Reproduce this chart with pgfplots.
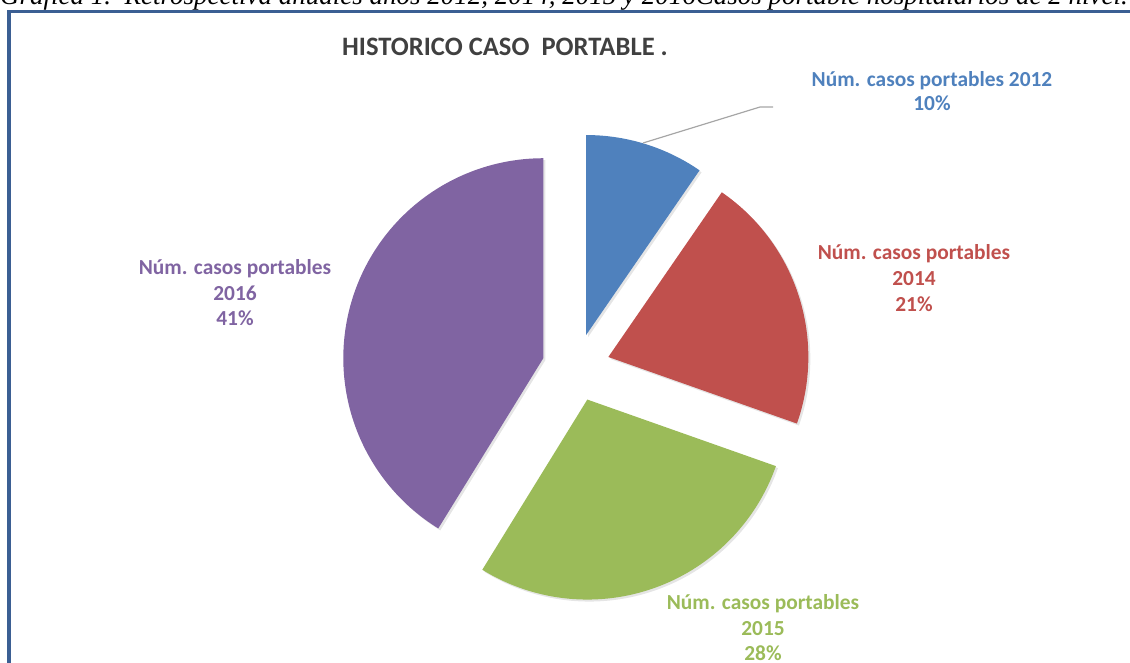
\documentclass[border=0pt]{standalone}
\usepackage{pgfplots}
\pgfplotsset{compat=1.18}
\usepackage{fontspec}
\setmainfont{Carlito}
\newfontfamily\capfont{Liberation Serif}
\definecolor{pieblue}{HTML}{4F81BD}
\definecolor{piered}{HTML}{C0504D}
\definecolor{piegreen}{HTML}{9BBB59}
\definecolor{piepurple}{HTML}{8064A2}
\definecolor{frameblue}{HTML}{3B5F93}
\definecolor{titlegray}{HTML}{404040}
% values (percent of cases)
\def\vA{9.6}   % 2012
\def\vB{20.8}  % 2014
\def\vC{28.4}  % 2015
\def\vD{41.2}  % 2016
% pie geometry (in px of the picture)
\def\cx{576}\def\cy{367.5}\def\rad{200}\def\expl{34}
\newcommand{\slice}[3]{%
 \pgfmathsetmacro\mid{(#1+#2)/2}%
 \pgfmathsetmacro\ox{\cx+\expl*cos(\mid)}%
 \pgfmathsetmacro\oy{\cy-\expl*sin(\mid)}%
 \pgfmathsetmacro\sx{\ox+2}%
 \pgfmathsetmacro\sy{\oy+2}%
 \edef\temp{\noexpand\addplot[fill=black, opacity=0.10, draw=none, domain=#2:#1, samples=120, variable=\noexpand\t] ({\sx+\rad*cos(\noexpand\t)},{\sy-\rad*sin(\noexpand\t)}) -- (axis cs:\sx,\sy) -- cycle;
 \noexpand\addplot[fill=#3, draw=none, domain=#2:#1, samples=120, variable=\noexpand\t] ({\ox+\rad*cos(\noexpand\t)},{\oy-\rad*sin(\noexpand\t)}) -- (axis cs:\ox,\oy) -- cycle;}%
 \temp}
\begin{document}
\begin{tikzpicture}
\begin{axis}[at={(0,0)}, anchor=south west, scale only axis,
  width=1130pt, height=663pt, xmin=0, xmax=1130, ymin=0, ymax=663,
  y dir=reverse, hide axis, clip=false]
\pgfmathsetmacro\aA{90}
\pgfmathsetmacro\aB{\aA-3.6*\vA}
\pgfmathsetmacro\aC{\aB-3.6*\vB}
\pgfmathsetmacro\aD{\aC-3.6*\vC}
\pgfmathsetmacro\aE{\aD-3.6*\vD}
\slice{\aA}{\aB}{pieblue}
\slice{\aB}{\aC}{piered}
\slice{\aC}{\aD}{piegreen}
\slice{\aD}{\aE}{piepurple}
% frame
\draw[frameblue, line width=3.5pt] (axis cs:8.8,670) -- (axis cs:8.8,11.5) -- (axis cs:1140,11.5);
% leader line
\draw[black!35, line width=1.2pt] (axis cs:643,143) -- (axis cs:760,107) -- (axis cs:773,107);
% title
\node[anchor=base, font=\bfseries\fontsize{26.6}{30}\selectfont, text=titlegray, inner sep=0] at (axis cs:505,56) {HISTORICO CASO\ \ PORTABLE .};
% labels
\tikzset{lab/.style={anchor=base, font=\bfseries\fontsize{21.4}{25}\selectfont, inner sep=0}}
\node[lab, text=pieblue] at (axis cs:932,87) {Núm. casos portables 2012};
\node[lab, text=pieblue] at (axis cs:932,111) {10\%};
\node[lab, text=piered] at (axis cs:914,260) {Núm. casos portables};
\node[lab, text=piered] at (axis cs:914,285) {2014};
\node[lab, text=piered] at (axis cs:914,311) {21\%};
\node[lab, text=piepurple] at (axis cs:235,275) {Núm. casos portables};
\node[lab, text=piepurple] at (axis cs:235,300) {2016};
\node[lab, text=piepurple] at (axis cs:235,325) {41\%};
\node[lab, text=piegreen] at (axis cs:763,609) {Núm. casos portables};
\node[lab, text=piegreen] at (axis cs:763,635) {2015};
\node[lab, text=piegreen] at (axis cs:763,660) {28\%};
\end{axis}
\node[anchor=base west, font=\capfont\itshape\fontsize{27}{31}\selectfont, inner sep=0] at (0pt,658pt) {Gráfica 1.\ \ Retrospectiva anuales años 2012, 2014, 2015 y 2016Casos portable hospitalarios de 2 nivel.};
\pgfresetboundingbox
\path[use as bounding box] (0,0) rectangle (1130pt,663pt);
\end{tikzpicture}
\end{document}
